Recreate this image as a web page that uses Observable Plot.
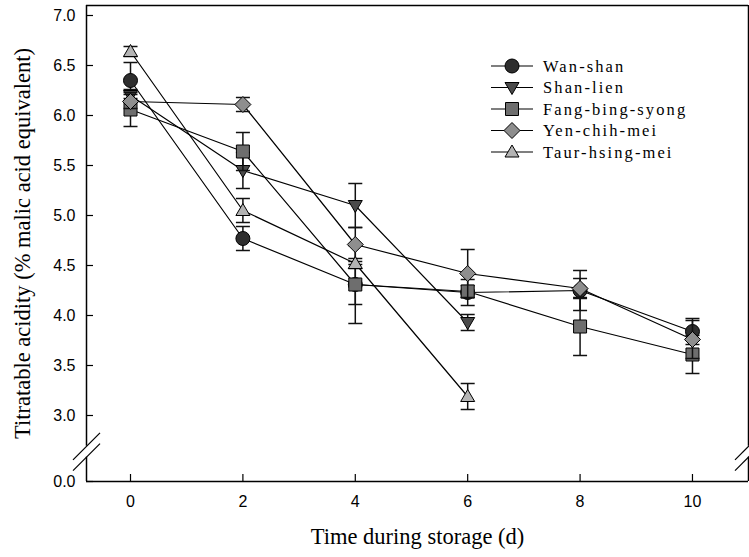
<!DOCTYPE html>
<html><head><meta charset="utf-8">
<script src="https://cdn.jsdelivr.net/npm/d3@7"></script>
<script src="https://cdn.jsdelivr.net/npm/@observablehq/plot@0.6"></script>
<style>
html,body{margin:0;padding:0;background:#fff;}
#chart{position:relative;width:749px;height:557px;}
</style></head><body><div id="chart"></div>
<script>
// ---------- data ----------
const days = [0, 2, 4, 6, 8, 10];
const seriesNames = ["Wan-shan", "Shan-lien", "Fang-bing-syong", "Yen-chih-mei", "Taur-hsing-mei"];
const wanShan = [6.35, 4.77, 4.31, 4.23, 4.25, 3.84];
const wanShanErr = [0.18, 0.12, 0.20, 0.13, 0.20, 0.13];
const shanLien = [6.20, 5.45, 5.10, 3.93];
const shanLienErr = [0.06, 0.18, 0.22, 0.08];
const fangBingSyong = [6.06, 5.64, 4.31, 4.24, 3.89, 3.61];
const fangBingSyongErr = [0.17, 0.19, 0.39, 0.06, 0.29, 0.19];
const yenChihMei = [6.14, 6.11, 4.71, 4.42, 4.27, 3.76];
const yenChihMeiErr = [0.07, 0.07, 0.17, 0.24, 0.10, 0.19];
const taurHsingMei = [6.64, 5.05, 4.52, 3.19];
const taurHsingMeiErr = [0.05, 0.12, 0.05, 0.13];
const yTickValues = [0, 3, 3.5, 4, 4.5, 5, 5.5, 6, 6.5, 7];
const yTickLabels = ["0.0", "3.0", "3.5", "4.0", "4.5", "5.0", "5.5", "6.0", "6.5", "7.0"];
const xTickValues = [0, 2, 4, 6, 8, 10];
const xTickLabels = ["0", "2", "4", "6", "8", "10"];
const xTitle = "Time during storage (d)";
const yTitle = "Titratable acidity (% malic acid equivalent)";

// ---------- styling ----------
const fills = ["#2e2e2e", "#4a4a4a", "#6e6e6e", "#8e8e8e", "#b4b4b4"];
const circleSym = {draw(c) { c.moveTo(7, 0); c.arc(0, 0, 7, 0, 2 * Math.PI); c.closePath(); }};
const triDownSym = {draw(c) { c.moveTo(-7, -5); c.lineTo(7, -5); c.lineTo(0, 7); c.closePath(); }};
const squareSym = {draw(c) { c.moveTo(-6.5, -6.5); c.lineTo(6.5, -6.5); c.lineTo(6.5, 6.5); c.lineTo(-6.5, 6.5); c.closePath(); }};
const diamondSym = {draw(c) { c.moveTo(0, -8); c.lineTo(8, 0); c.lineTo(0, 8); c.lineTo(-8, 0); c.closePath(); }};
const triUpSym = {draw(c) { c.moveTo(0, -7); c.lineTo(7, 5); c.lineTo(-7, 5); c.closePath(); }};
const capSym = {draw(c) { c.moveTo(-7, 0); c.lineTo(7, 0); }};
const slashSym = {draw(c) { c.moveTo(-13.5, 13.5); c.lineTo(13.5, -13.5); }};
const symbols = [circleSym, triDownSym, squareSym, diamondSym, triUpSym];

const valueSets = [wanShan, shanLien, fangBingSyong, yenChihMei, taurHsingMei];
const errSets = [wanShanErr, shanLienErr, fangBingSyongErr, yenChihMeiErr, taurHsingMeiErr];

// broken axis: 0.0 sits just below the 3.0 segment
const zeroPos = 2.34;
const disp = v => (v >= 3 ? v : v + zeroPos);
const xDomain = [-0.783, 10.997];
const yDomain = [zeroPos, 7.1];
const breakTop = 2.692, breakBottom = 2.583;

const series = seriesNames.map((name, k) => ({
  name, fill: fills[k], symbol: symbols[k],
  rows: valueSets[k].map((v, i) => ({name, day: days[i], value: v, err: errSets[k][i]}))
}));

const marks = [];
// frame with breaks
const sides = xDomain.map(x => ({x}));
marks.push(Plot.ruleX(sides, {x: "x", y1: breakTop, y2: yDomain[1], stroke: "black", strokeWidth: 1.5}));
marks.push(Plot.ruleX(sides, {x: "x", y1: yDomain[0], y2: breakBottom, stroke: "black", strokeWidth: 1.5}));
marks.push(Plot.ruleY([yDomain[1]], {x1: xDomain[0], x2: xDomain[1], stroke: "black", strokeWidth: 1.5}));
marks.push(Plot.ruleY([yDomain[0]], {x1: xDomain[0], x2: xDomain[1], stroke: "black", strokeWidth: 1.5}));
const slashes = xDomain.flatMap(x => [{x, y: breakTop}, {x, y: breakBottom}]);
marks.push(Plot.dot(slashes, {x: "x", y: "y", symbol: slashSym, fill: "none", stroke: "black", strokeWidth: 1.2}));

// axes
marks.push(Plot.axisX({ticks: xTickValues, tickFormat: (d, i) => xTickLabels[i], tickSize: -7, tickPadding: 21, strokeWidth: 1.2, fontSize: 16, label: null}));
marks.push(Plot.axisY({ticks: yTickValues.map(disp), tickFormat: (d, i) => yTickLabels[i], tickSize: -7, tickPadding: 18, strokeWidth: 1.2, fontSize: 16, label: null}));

// series
for (const s of series) {
  marks.push(Plot.line(s.rows, {x: "day", y: d => disp(d.value), stroke: "black", strokeWidth: 1.2}));
  marks.push(Plot.ruleX(s.rows, {x: "day", y1: d => disp(d.value - d.err), y2: d => disp(d.value + d.err), stroke: "#111", strokeWidth: 1.5}));
  marks.push(Plot.dot(s.rows, {x: "day", y: d => disp(d.value + d.err), symbol: capSym, fill: "none", stroke: "#111", strokeWidth: 1.5}));
  marks.push(Plot.dot(s.rows, {x: "day", y: d => disp(d.value - d.err), symbol: capSym, fill: "none", stroke: "#111", strokeWidth: 1.5}));
  marks.push(Plot.dot(s.rows, {x: "day", y: d => disp(d.value), symbol: s.symbol, fill: s.fill, stroke: "black", strokeWidth: 1}));
}

// axis titles
marks.push(Plot.text([yTitle], {frameAnchor: "left", textAnchor: "middle", dx: -64, rotate: -90, fontFamily: "Liberation Serif, Times New Roman, serif", fontSize: 22.5, fill: "black"}));
marks.push(Plot.text([xTitle], {frameAnchor: "bottom", textAnchor: "middle", dy: 62, fontFamily: "Liberation Serif, Times New Roman, serif", fontSize: 22.5, fill: "black"}));

const plot = Plot.plot({
  width: 749, height: 557,
  marginLeft: 86, marginRight: 1, marginTop: 5, marginBottom: 76,
  x: {type: "linear", domain: xDomain},
  y: {type: "linear", domain: yDomain},
  style: {fontFamily: "Liberation Sans, Arial, sans-serif", fontSize: "16px", color: "black", background: "white"},
  marks
});

// legend (inside plot area)
const svg = d3.select(plot);
const leg = svg.append("g").attr("class", "legend");
const legX = 512, legY0 = 66, legDy = 21.5;
series.forEach((s, k) => {
  const g = leg.append("g").attr("transform", `translate(${legX},${legY0 + k * legDy})`);
  g.append("line").attr("x1", -21).attr("x2", 21).attr("y1", 0).attr("y2", 0).attr("stroke", "black").attr("stroke-width", 1.2);
  const p = d3.path(); s.symbol.draw(p);
  g.append("path").attr("d", p.toString()).attr("fill", s.fill).attr("stroke", "black").attr("stroke-width", 1);
  g.append("text").attr("x", 31).attr("y", 0).attr("dy", "0.36em").attr("text-anchor", "start")
    .attr("font-family", "Liberation Serif, Times New Roman, serif").attr("font-size", 16.5)
    .attr("letter-spacing", "2.1px")
    .attr("fill", "black").text(s.name);
});

document.getElementById("chart").appendChild(plot);
</script>
</body></html>
